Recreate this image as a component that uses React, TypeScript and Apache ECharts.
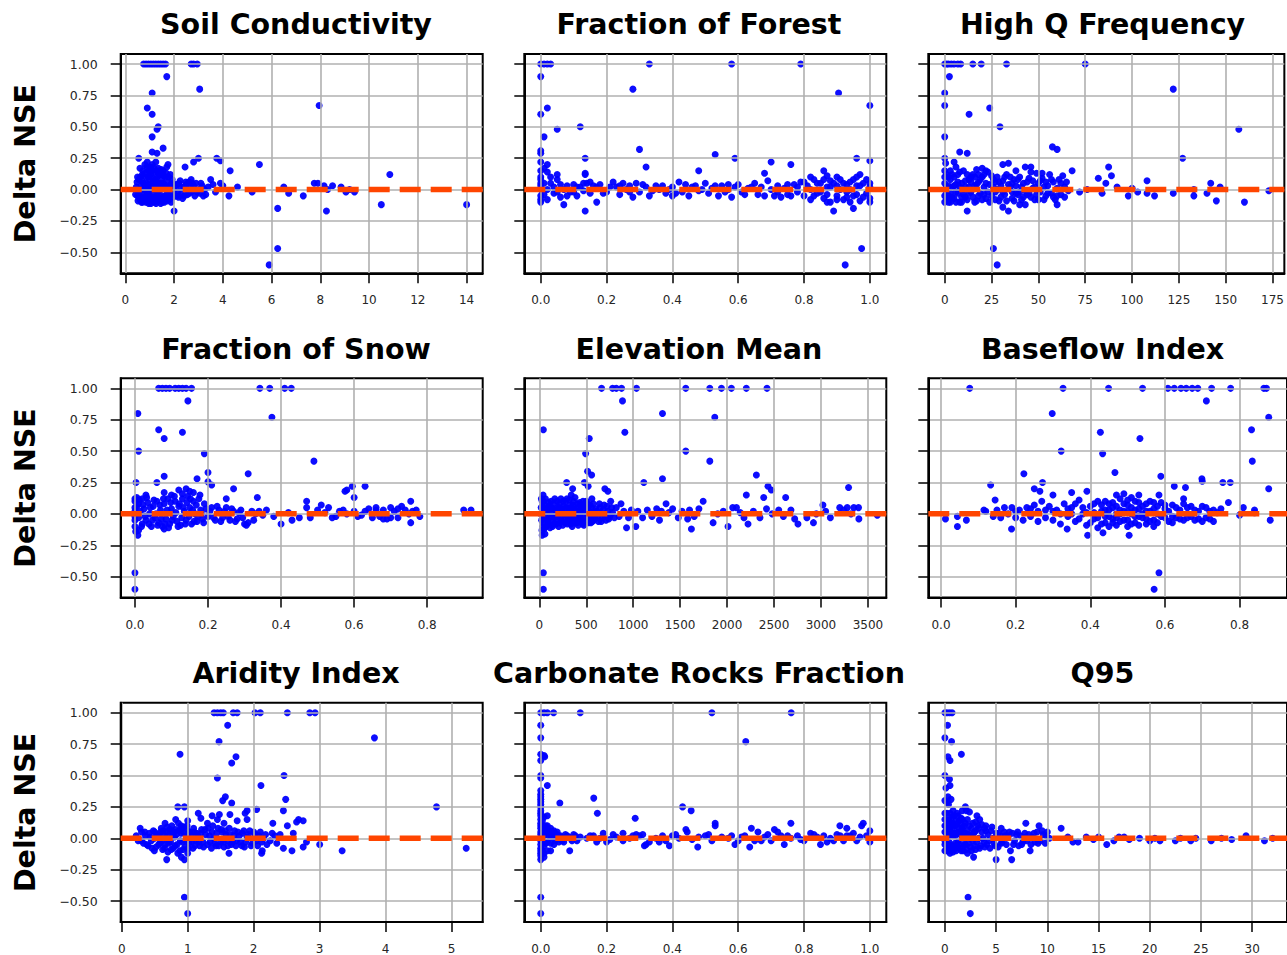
import React, { useEffect, useRef } from "react";
import * as echarts from "echarts";

// ---------- text ----------
const panelTitles = [
  "Soil Conductivity", "Fraction of Forest", "High Q Frequency",
  "Fraction of Snow", "Elevation Mean", "Baseflow Index",
  "Aridity Index", "Carbonate Rocks Fraction", "Q95",
];
const yAxisName = "Delta NSE";

// ---------- axes ----------
const yMin = -0.667;
const yMax = 1.08;
const yTicks = [-0.5, -0.25, 0, 0.25, 0.5, 0.75, 1.0];

const xRanges: [number, number][] = [
  [-0.19, 14.66], [-0.05, 1.05], [-8.77, 181.3],
  [-0.039, 0.952], [-160, 3696], [-0.034, 0.927],
  [-0.015, 5.47], [-0.05, 1.05], [-1.62, 33.4],
];
const xTicks: number[][] = [
  [0, 2, 4, 6, 8, 10, 12, 14],
  [0, 0.2, 0.4, 0.6, 0.8, 1.0],
  [0, 25, 50, 75, 100, 125, 150, 175],
  [0, 0.2, 0.4, 0.6, 0.8],
  [0, 500, 1000, 1500, 2000, 2500, 3000, 3500],
  [0, 0.2, 0.4, 0.6, 0.8],
  [0, 1, 2, 3, 4, 5],
  [0, 0.2, 0.4, 0.6, 0.8, 1.0],
  [0, 5, 10, 15, 20, 25, 30],
];
const xDecimals = [0, 1, 0, 1, 0, 1, 0, 1, 0];

// ---------- data: [attribute value, delta NSE] ----------
const soilConductivity: number[][] = [
  [0.75,1],[0.85,1],[0.95,1],[1.05,1],[1.15,1],[1.25,1],[1.35,1],[1.45,1],[1.55,1],[1.65,1],[2.7,1],[2.8,1],[2.95,1],
  [1.7,0.9],[3.05,0.8],[1.1,0.77],[0.9,0.65],[1.1,0.6],[7.95,0.67],[1.35,0.5],[1.3,0.48],[1.1,0.42],[1.55,0.33],[1.1,0.3],[1.3,0.29],
  [0.55,0.25],[3.0,0.25],[3.75,0.25],[3.9,0.23],[2.8,0.22],[5.5,0.2],[2.45,0.18],[1.75,0.2],[1.7,0.18],[4.3,0.15],[10.85,0.12],[3.5,0.08],
  [4.6,0.02],[4.25,-0.05],[5.2,-0.02],[6.25,-0.15],[6.25,-0.47],[5.9,-0.6],[6.5,0.02],[6.7,-0.03],[7.3,-0.05],[7.75,0.05],[7.9,0.05],
  [8.15,0.03],[8.25,-0.17],[8.5,0.03],[8.85,0.02],[9.05,-0.02],[9.4,-0.02],[10.5,-0.12],[14.0,-0.12],[2.0,-0.17],[8.3,0.0],[9.2,0.0],[3.9,0.05],[4.0,0.03],
  [0.45,0.02],[0.5,-0.05],[0.55,0.08],[0.6,-0.08],[0.6,0.17],[0.65,0.03],[0.7,-0.1],[0.7,0.12],[0.75,0.05],[0.75,-0.03],[0.8,0.2],[0.8,-0.07],
  [0.85,0.1],[0.85,0.0],[0.9,0.22],[0.9,-0.09],[0.95,0.15],[0.95,0.04],[1.0,0.18],[1.0,-0.05],[1.0,0.08],[1.05,-0.11],[1.05,0.12],[1.1,0.02],
  [1.1,0.2],[1.15,-0.07],[1.15,0.06],[1.2,0.14],[1.2,-0.1],[1.25,0.03],[1.25,0.22],[1.3,-0.05],[1.3,0.1],[1.35,0.17],[1.35,-0.09],[1.4,0.05],
  [1.4,-0.03],[1.45,0.12],[1.45,-0.11],[1.5,0.02],[1.5,0.08],[1.55,-0.06],[1.55,0.15],[1.6,0.04],[1.6,-0.1],[1.65,0.1],[1.7,-0.04],[1.75,0.06],
  [1.8,-0.08],[1.8,0.02],[1.85,0.12],[1.9,-0.03],[1.95,0.05],[0.65,-0.06],[0.9,-0.02],[1.2,0.0],[1.5,-0.08],[0.5,0.1],
  [2.05,0.03],[2.1,-0.05],[2.2,0.05],[2.3,-0.03],[2.35,-0.07],[2.4,0.02],[2.5,0.04],[2.55,-0.04],[2.6,0.06],[2.7,0.08],[2.7,-0.02],[2.8,0.03],
  [2.85,-0.05],[2.9,0.05],[3.0,0.0],[3.05,-0.03],[3.15,0.03],[3.2,-0.05],[3.3,-0.04],[3.4,0.02],[3.6,0.04],[3.7,-0.02],[2.25,0.07],[2.15,-0.02],
  [0.42,-0.04],[0.48,0.06],[0.52,-0.09],[0.58,0.0],[0.62,0.1],[0.66,-0.1],[0.68,0.07],[0.72,0.15],[0.74,-0.06],[0.78,0.02],[0.82,0.13],
  [0.84,-0.1],[0.86,0.05],[0.88,0.18],[0.92,-0.05],[0.94,0.1],[0.96,-0.11],[0.98,0.02],[1.02,0.14],[1.04,0.0],[1.06,-0.08],[1.08,0.16],
  [1.12,0.09],[1.14,-0.03],[1.16,0.18],[1.18,0.04],[1.22,-0.06],[1.24,0.08],[1.26,-0.11],[1.28,0.15],[1.32,0.05],[1.34,-0.02],[1.38,0.12],
  [1.42,-0.07],[1.44,0.03],[1.48,0.16],[1.52,-0.1],[1.54,0.05],[1.58,0.11],[1.62,-0.05],[1.64,0.01],[1.68,0.13],[1.72,-0.09],[1.76,0.0],
  [1.78,0.1],[1.82,-0.05],[1.86,0.04],[1.88,-0.1],[1.92,0.08],[1.96,-0.06],[2.02,0.0],[2.12,0.04],[2.18,-0.06],[2.28,0.02],[2.42,-0.05],
  [2.48,0.06],[2.62,-0.03],[2.66,0.03],[2.75,0.05],[2.95,-0.02],[3.1,0.05],[3.25,0.0],[0.55,-0.02],[0.7,0.0],[0.95,-0.07],
];
const fractionForest: number[][] = [
  [0.0,1],[0.01,1],[0.02,1],[0.03,1],[0.33,1],[0.58,1],[0.79,1],
  [0.0,0.9],[0.28,0.8],[0.905,0.77],[1.0,0.67],[0.02,0.65],[0.0,0.6],[0.05,0.48],[0.12,0.5],[0.01,0.42],[0.3,0.32],[0.0,0.31],[0.0,0.29],
  [0.53,0.28],[0.135,0.25],[0.59,0.25],[0.96,0.25],[1.0,0.23],[0.32,0.18],[0.7,0.22],[0.76,0.2],[0.48,0.15],[0.68,0.13],[0.86,0.15],[0.87,0.11],
  [0.97,0.12],[0.02,0.14],[0.05,0.12],[0.135,0.13],[0.135,0.12],[0.135,-0.17],[0.17,-0.1],[0.07,-0.12],[0.975,-0.47],[0.925,-0.6],[0.89,-0.17],
  [0.95,-0.15],[0.02,0.2],[0.01,0.17],[0.0,0.22],[0.0,0.1],[0.0,0.05],[0.0,-0.05],[0.0,-0.1],[0.0,0.15],[0.0,0.0],
  [0.03,0.05],[0.04,-0.03],[0.05,0.08],[0.06,-0.06],[0.08,0.03],[0.09,-0.02],[0.1,0.04],[0.11,-0.05],[0.12,0.02],[0.14,0.05],[0.15,-0.03],
  [0.16,0.03],[0.18,0.04],[0.2,-0.02],[0.22,0.06],[0.23,0.02],[0.24,-0.04],[0.25,0.05],[0.26,0.0],[0.27,0.03],[0.28,-0.06],[0.29,0.05],
  [0.3,-0.02],[0.32,0.02],[0.33,-0.05],[0.35,0.03],[0.36,0.0],[0.38,-0.03],[0.4,0.02],[0.42,0.06],[0.43,-0.02],[0.44,0.04],[0.45,-0.05],
  [0.46,0.02],[0.5,0.05],[0.51,-0.03],[0.52,0.01],[0.54,-0.05],[0.55,0.03],[0.57,0.0],[0.58,-0.06],[0.6,0.04],[0.61,-0.02],[0.63,0.01],
  [0.65,0.05],[0.66,-0.04],[0.67,0.02],[0.69,0.07],[0.71,-0.05],[0.72,0.03],[0.73,-0.06],[0.74,0.01],[0.75,-0.04],[0.77,0.04],[0.78,-0.02],
  [0.79,0.06],[0.8,-0.05],[0.81,0.03],[0.82,-0.08],[0.83,0.08],[0.84,-0.03],[0.85,0.05],[0.86,-0.07],[0.87,0.02],[0.88,-0.1],[0.88,0.07],
  [0.9,0.03],[0.9,-0.05],[0.91,0.08],[0.92,-0.08],[0.93,0.04],[0.93,-0.02],[0.94,0.06],[0.95,-0.05],[0.96,0.03],[0.97,-0.09],[0.98,0.05],
  [0.99,-0.03],[1.0,0.02],[1.0,-0.07],[0.57,0.04],[0.68,-0.05],[0.76,-0.05],[0.48,-0.01],[0.4,-0.05],[0.15,0.06],
  [0.0,0.08],[0.0,-0.08],[0.0,0.03],[0.01,0.05],[0.01,-0.04],[0.02,0.0],[0.02,-0.08],[0.03,0.1],[0.04,0.02],[0.05,-0.02],[0.06,0.04],
  [0.07,0.0],[0.08,-0.05],[0.1,-0.02],[0.11,0.02],[0.13,-0.01],[0.13,0.05],[0.17,0.02],[0.19,-0.03],[0.21,0.02],[0.24,0.03],[0.27,-0.02],
  [0.31,0.04],[0.34,-0.01],[0.37,0.03],[0.39,0.0],[0.41,-0.03],[0.47,0.03],[0.49,0.0],[0.53,0.03],[0.56,-0.02],[0.59,0.02],[0.62,-0.04],
  [0.64,0.02],[0.7,0.0],[0.72,-0.02],[0.75,0.04],[0.78,0.02],[0.8,0.06],[0.82,0.0],[0.83,-0.05],[0.84,0.05],[0.85,-0.02],[0.86,0.08],
  [0.87,-0.04],[0.88,0.02],[0.89,0.05],[0.9,-0.08],[0.91,0.0],[0.92,0.05],[0.93,-0.06],[0.94,0.0],[0.95,0.08],[0.96,-0.04],[0.97,0.03],
  [0.98,-0.06],[0.99,0.08],[1.0,0.05],[1.0,-0.1],[0.96,0.1],[0.9,0.1],[0.82,0.1],[0.87,-0.1],[0.94,-0.1],
];
const highQFrequency: number[][] = [
  [0,1],[1,1],[2,1],[3.5,1],[5,1],[7,1],[8.5,1],[15,1],[19.5,1],[33,1],[75,1],
  [2.5,0.9],[0,0.77],[0,0.67],[24,0.65],[13,0.6],[29.5,0.5],[0,0.42],[122,0.8],[157,0.48],[57.5,0.34],[60,0.32],[8,0.3],[12,0.29],
  [0,0.25],[0.5,0.21],[127,0.25],[5,0.22],[31,0.2],[34,0.21],[43,0.18],[46,0.18],[87.5,0.18],[68,0.15],[89,0.11],[82,0.09],[108,0.07],
  [142,0.05],[147,0.02],[145,-0.09],[160,-0.1],[133,-0.05],[140,-0.03],[122,-0.03],[98,-0.05],[103,-0.02],[108,-0.03],[112,-0.05],
  [100,0.01],[72,-0.02],[84,-0.03],[173,-0.01],[12,-0.17],[31,-0.14],[34,-0.17],[40,-0.12],[43,-0.12],[60,-0.12],[26,-0.47],[28,-0.6],
  [133,0.0],[76,0.0],[92,0.02],[86,0.05],
  [0,0.1],[0,0.05],[0,-0.05],[0,-0.1],[1,0.12],[1,-0.08],[2,0.03],[2,-0.05],[3,0.08],[3,-0.1],[4,0.02],[5,-0.07],[5,0.1],[6,0.04],
  [7,-0.03],[7,0.12],[8,-0.1],[9,0.05],[10,-0.04],[10,0.15],[11,0.02],[12,-0.08],[13,0.08],[14,-0.02],[15,0.12],[16,0.03],[17,-0.09],
  [18,0.06],[19,-0.03],[20,0.1],[21,0.02],[22,-0.07],[23,0.14],[24,0.04],[25,-0.05],[26,0.08],[27,-0.02],[28,0.1],[29,-0.09],[30,0.03],
  [31,0.07],[32,-0.04],[33,0.12],[35,0.02],[36,-0.07],[37,0.08],[38,0.03],[39,-0.04],[40,0.1],[41,0.02],[42,-0.06],[44,0.06],[45,-0.03],
  [46,0.14],[47,0.01],[48,-0.08],[50,0.05],[51,-0.02],[52,0.09],[54,-0.05],[55,0.03],[56,0.12],[57,-0.03],[58,0.06],[59,-0.08],[60,0.01],
  [61,0.08],[62,-0.04],[63,0.11],[64,0.02],[66,-0.01],[6,0.18],[17,0.16],[20,0.17],[38,0.15],[49,0.13],[52,0.13],[3,-0.03],[9,-0.06],
  [11,0.07],[14,0.06],[18,-0.05],[22,0.05],[27,0.06],[36,0.05],[43,-0.01],[53,0.02],
  [0,0.0],[0,0.15],[1,0.02],[1,-0.04],[2,0.1],[2,-0.1],[3,0.15],[4,-0.06],[4,0.12],[5,0.03],[6,-0.1],[6,-0.02],[7,0.06],[8,0.02],[8,0.14],
  [9,-0.1],[10,0.0],[11,-0.06],[12,0.12],[13,-0.03],[13,0.02],[14,0.1],[15,-0.06],[16,0.1],[16,-0.1],[17,0.04],[18,0.12],[19,0.08],[20,-0.08],
  [21,-0.04],[21,0.12],[22,0.15],[23,-0.02],[24,-0.1],[25,0.11],[26,0.02],[27,-0.08],[28,0.0],[29,0.06],[30,-0.06],[31,-0.02],[32,0.1],
  [33,-0.09],[34,0.04],[35,0.1],[36,-0.02],[37,-0.09],[38,-0.03],[39,0.08],[40,-0.02],[41,-0.08],[42,0.05],[44,-0.04],[45,0.09],[46,-0.06],
  [47,0.07],[48,0.02],[49,-0.04],[50,-0.08],[51,0.07],[53,-0.08],[54,0.06],[55,-0.03],[57,0.08],[58,-0.06],[60,-0.05],[62,0.05],[64,-0.06],[65,0.06],
];
const fractionSnow: number[][] = [
  [0.065,1],[0.075,1],[0.085,1],[0.095,1],[0.11,1],[0.12,1],[0.13,1],[0.14,1],[0.155,1],[0.342,1],[0.369,1],[0.41,1],[0.428,1],
  [0.145,0.9],[0.008,0.8],[0.375,0.77],[0.065,0.67],[0.13,0.65],[0.08,0.6],[0.01,0.5],[0.19,0.48],[0.49,0.42],[0.2,0.33],[0.31,0.32],
  [0.08,0.3],[0.17,0.28],[0.003,0.25],[0.06,0.25],[0.2,0.255],[0.21,0.23],[0.58,0.19],[0.595,0.22],[0.63,0.22],[0.575,0.18],[0.6,0.13],
  [0.27,0.2],[0.335,0.13],[0.25,0.12],[0.1,0.15],[0.08,0.17],[0.03,0.15],[0.47,0.1],[0.755,0.1],[0.4,-0.08],[0.43,-0.05],[0.755,-0.07],
  [0.9,0.03],[0.92,0.03],[0.0,-0.47],[0.0,-0.6],[0.008,-0.17],[0.08,-0.12],[0.14,0.2],[0.15,0.18],[0.16,0.17],[0.12,0.19],[0.13,0.16],
  [0.0,0.1],[0.0,-0.1],[0.0,0.05],[0.0,-0.05],[0.005,0.13],[0.01,-0.13],[0.01,0.08],[0.015,0.02],[0.02,-0.08],[0.02,0.12],[0.025,0.04],
  [0.03,-0.05],[0.035,0.09],[0.04,0.0],[0.045,-0.1],[0.05,0.06],[0.055,-0.03],[0.06,0.1],[0.065,-0.07],[0.07,0.03],[0.075,-0.1],[0.08,0.08],
  [0.085,-0.04],[0.09,0.12],[0.095,-0.08],[0.1,0.04],[0.105,-0.02],[0.11,0.1],[0.115,-0.06],[0.12,0.06],[0.125,-0.09],[0.13,0.12],
  [0.135,0.02],[0.14,-0.05],[0.145,0.14],[0.15,0.05],[0.155,-0.08],[0.16,0.1],[0.165,0.0],[0.17,-0.06],[0.175,0.12],[0.18,0.03],
  [0.185,-0.04],[0.19,0.08],[0.2,-0.02],[0.21,0.05],[0.22,-0.05],[0.23,0.03],[0.24,-0.03],[0.25,0.05],[0.26,-0.05],[0.27,0.02],[0.28,-0.04],
  [0.29,0.03],[0.3,-0.08],[0.31,-0.07],[0.32,0.02],[0.33,0.0],[0.36,0.03],[0.38,-0.02],[0.42,0.01],[0.45,-0.03],[0.47,0.05],[0.48,-0.03],
  [0.5,0.03],[0.51,0.07],[0.52,0.01],[0.53,0.05],[0.55,-0.02],[0.57,0.03],[0.6,0.02],[0.62,-0.01],[0.64,0.04],[0.65,-0.03],[0.66,0.03],
  [0.67,-0.02],[0.68,0.03],[0.69,-0.04],[0.7,0.05],[0.71,0.02],[0.72,-0.03],[0.73,0.06],[0.74,0.03],[0.75,0.0],[0.77,0.03],[0.78,-0.02],
  [0.54,-0.03],[0.66,0.05],[0.7,-0.03],
  [0.0,0.02],[0.0,-0.02],[0.0,0.12],[0.002,-0.14],[0.005,0.06],[0.01,-0.03],[0.012,0.11],[0.018,-0.1],[0.022,0.07],[0.028,-0.02],[0.032,0.13],
  [0.038,-0.08],[0.042,0.05],[0.048,-0.05],[0.052,0.11],[0.058,0.0],[0.062,-0.09],[0.068,0.07],[0.072,-0.04],[0.078,0.12],[0.082,-0.08],
  [0.088,0.03],[0.092,-0.11],[0.098,0.09],[0.102,-0.05],[0.108,0.14],[0.112,0.01],[0.118,-0.1],[0.122,0.08],[0.128,-0.03],[0.132,0.05],
  [0.138,-0.08],[0.142,0.09],[0.148,-0.02],[0.152,0.12],[0.158,0.03],[0.162,-0.06],[0.168,0.07],[0.172,-0.02],[0.178,0.15],[0.182,0.0],
  [0.188,-0.07],[0.195,0.04],[0.205,0.02],[0.215,-0.03],[0.225,0.06],[0.235,-0.06],[0.245,0.02],[0.255,-0.02],[0.265,0.04],[0.275,-0.06],
  [0.285,0.01],[0.295,-0.03],[0.305,-0.09],[0.325,-0.05],[0.34,0.02],[0.35,-0.01],[0.56,0.02],[0.58,0.0],[0.61,-0.02],[0.63,0.02],
  [0.68,-0.04],[0.72,0.04],[0.76,0.02],
];
const elevationMean: number[][] = [
  [663,1],[780,1],[820,1],[876,1],[1035,1],[1560,1],[1816,1],[1940,1],[2046,1],[2205,1],[2425,1],
  [886,0.9],[1312,0.8],[1869,0.77],[43,0.67],[911,0.65],[532,0.6],[493,0.48],[1560,0.5],[1816,0.42],[514,0.34],[557,0.31],[2312,0.31],
  [291,0.25],[1113,0.25],[1312,0.28],[2436,0.22],[2471,0.19],[698,0.2],[730,0.18],[355,0.2],[340,0.15],[2205,0.15],[2390,0.13],[2624,0.13],
  [3294,0.21],[40,0.15],[1745,0.1],[1350,0.08],[3021,0.07],[3200,0.05],[3280,0.05],[3400,0.05],[929,-0.11],[1028,-0.1],[1620,-0.12],
  [1851,-0.07],[2010,-0.1],[2223,-0.08],[2755,-0.08],[2920,-0.07],[3404,-0.04],[43,-0.47],[43,-0.6],[30,-0.17],[60,-0.16],[480,0.25],[520,0.22],
  [20,0.05],[25,-0.05],[30,0.1],[35,-0.1],[40,0.02],[50,-0.12],[60,0.07],[70,-0.03],[80,0.04],[90,-0.08],[100,0.09],[110,0.0],[120,-0.06],
  [130,0.05],[140,-0.1],[150,0.08],[160,-0.03],[170,0.03],[180,-0.08],[190,0.1],[200,-0.02],[210,0.05],[220,-0.07],[230,0.12],[240,0.02],
  [250,-0.09],[260,0.06],[270,-0.04],[280,0.1],[290,-0.01],[300,-0.08],[310,0.04],[320,0.11],[330,-0.05],[340,0.02],[350,-0.1],[360,0.07],
  [370,-0.03],[380,0.13],[390,0.01],[400,-0.07],[410,0.05],[420,-0.02],[430,0.09],[440,-0.05],[450,0.03],[460,-0.08],[470,0.06],[480,0.0],
  [490,-0.06],[500,0.1],[510,0.02],[520,-0.04],[540,0.07],[550,-0.07],[560,0.12],[570,0.0],[580,-0.05],[600,0.04],[620,-0.03],[640,0.08],
  [660,-0.06],[680,0.03],[700,-0.02],[720,0.06],[740,-0.04],[760,0.1],[780,0.01],[800,-0.03],[820,0.05],[850,-0.02],[870,0.08],[900,0.02],
  [950,-0.03],[980,0.03],[1050,0.02],[1100,-0.03],[1150,0.03],[1200,-0.02],[1250,0.04],[1280,-0.05],[1300,0.02],[1380,0.01],[1420,0.04],
  [1480,-0.03],[1520,0.02],[1580,-0.04],[1600,0.03],[1650,-0.02],[1700,0.04],[1900,0.0],[1960,0.02],[2060,0.05],[2100,0.05],[2140,0.01],
  [2180,-0.03],[2280,0.02],[2350,-0.03],[2420,0.04],[2480,0.0],[2550,0.03],[2600,-0.02],[2680,0.03],[2720,-0.04],[2850,-0.03],[2950,0.0],
  [3050,0.02],[3100,-0.03],[3240,0.03],[3320,0.0],[3350,0.05],[3600,-0.01],
  [15,0.0],[22,0.12],[28,-0.13],[33,0.06],[38,-0.07],[45,0.1],[55,-0.04],[65,0.12],[75,-0.1],[85,0.02],[95,-0.05],[105,0.06],[115,-0.11],
  [125,0.1],[135,-0.02],[145,0.04],[155,-0.08],[165,0.12],[175,0.0],[185,-0.05],[195,0.05],[205,-0.1],[215,0.08],[225,-0.03],[235,0.04],
  [245,-0.06],[255,0.1],[265,0.0],[275,-0.07],[285,0.05],[295,0.12],[305,-0.04],[315,0.0],[325,0.07],[335,-0.08],[345,0.05],[355,-0.03],
  [365,0.1],[375,-0.07],[385,0.03],[395,-0.04],[405,0.08],[415,-0.09],[425,0.02],[435,-0.02],[445,0.06],[455,-0.05],[465,0.1],[475,-0.09],
  [485,0.03],[495,0.06],[505,-0.03],[515,0.08],[525,-0.07],[535,0.02],[545,-0.02],[555,0.05],[565,-0.06],[575,0.08],[590,-0.02],[610,0.02],
  [630,-0.06],[650,0.05],[670,-0.03],[690,0.07],[710,-0.05],[730,0.02],[750,-0.02],[770,0.05],
];
const baseflowIndex: number[][] = [
  [0.077,1],[0.327,1],[0.449,1],[0.54,1],[0.608,1],[0.625,1],[0.643,1],[0.657,1],[0.673,1],[0.688,1],[0.725,1],[0.776,1],[0.865,1],[0.872,1],
  [0.711,0.9],[0.298,0.8],[0.878,0.77],[0.832,0.67],[0.427,0.65],[0.533,0.6],[0.322,0.5],[0.433,0.48],[0.834,0.42],[0.466,0.33],[0.222,0.32],
  [0.589,0.3],[0.699,0.28],[0.272,0.25],[0.755,0.25],[0.775,0.25],[0.7,0.26],[0.133,0.23],[0.625,0.22],[0.655,0.21],[0.25,0.2],[0.265,0.18],
  [0.878,0.2],[0.3,0.15],[0.35,0.17],[0.391,0.18],[0.47,0.15],[0.49,0.16],[0.53,0.15],[0.584,0.15],[0.145,0.11],[0.65,0.12],[0.77,0.09],
  [0.81,0.05],[0.84,0.03],[0.012,-0.04],[0.044,-0.1],[0.068,-0.05],[0.044,-0.02],[0.115,0.03],[0.189,-0.12],[0.393,-0.17],[0.434,-0.15],
  [0.504,-0.17],[0.338,-0.12],[0.584,-0.47],[0.571,-0.6],[0.882,-0.05],[0.84,0.01],[0.8,-0.01],
  [0.12,0.02],[0.14,-0.02],[0.15,0.03],[0.16,-0.03],[0.17,0.05],[0.18,0.0],[0.19,0.05],[0.2,-0.03],[0.21,0.03],[0.22,-0.05],[0.23,0.05],
  [0.24,-0.02],[0.25,0.07],[0.26,-0.06],[0.27,0.1],[0.28,-0.03],[0.29,0.06],[0.3,-0.05],[0.31,0.03],[0.32,-0.08],[0.33,0.08],[0.34,-0.02],
  [0.35,0.05],[0.36,-0.06],[0.37,0.11],[0.38,0.0],[0.39,-0.09],[0.4,0.06],[0.41,-0.04],[0.42,0.1],[0.42,-0.11],[0.43,0.02],[0.44,-0.07],
  [0.45,0.08],[0.45,-0.02],[0.46,0.05],[0.47,-0.09],[0.48,0.03],[0.48,0.12],[0.49,-0.05],[0.5,0.07],[0.5,-0.1],[0.51,0.0],[0.52,0.1],
  [0.52,-0.07],[0.53,0.04],[0.54,-0.03],[0.55,0.08],[0.55,-0.08],[0.56,0.02],[0.57,-0.05],[0.58,0.06],[0.59,-0.02],[0.6,0.04],[0.61,-0.06],
  [0.62,0.07],[0.63,-0.03],[0.64,0.03],[0.65,-0.05],[0.66,0.05],[0.67,-0.02],[0.68,0.03],[0.69,-0.04],[0.7,0.06],[0.71,-0.03],[0.72,0.02],
  [0.73,-0.06],[0.74,0.01],[0.75,0.04],[0.44,0.03],[0.46,-0.04],[0.5,0.02],[0.53,-0.02],[0.47,0.0],[0.57,0.09],[0.51,0.13],
  [0.35,0.0],[0.36,0.08],[0.37,-0.04],[0.38,0.05],[0.39,0.01],[0.4,-0.07],[0.41,0.08],[0.41,0.01],[0.42,-0.03],[0.43,0.07],[0.43,-0.08],
  [0.44,0.1],[0.44,-0.02],[0.45,0.03],[0.45,-0.1],[0.46,0.09],[0.46,-0.07],[0.47,0.06],[0.47,-0.03],[0.48,-0.06],[0.48,0.0],[0.49,0.08],
  [0.49,0.02],[0.5,-0.05],[0.5,0.11],[0.51,0.05],[0.51,-0.08],[0.52,-0.02],[0.52,0.03],[0.53,0.09],[0.53,-0.09],[0.54,0.06],[0.54,0.0],
  [0.55,-0.04],[0.55,0.02],[0.56,0.1],[0.56,-0.06],[0.57,0.04],[0.57,-0.1],[0.58,0.0],[0.58,-0.07],[0.59,0.09],[0.6,-0.03],[0.6,0.07],
  [0.61,0.02],[0.62,-0.02],[0.62,-0.07],[0.63,0.05],[0.64,-0.04],[0.65,0.08],[0.66,-0.03],[0.67,0.06],[0.68,-0.05],[0.69,0.02],[0.7,-0.06],
  [0.71,0.05],[0.72,-0.04],[0.73,0.03],[0.3,0.02],[0.32,0.0],[0.34,0.04],[0.28,0.03],[0.26,0.02],[0.24,0.04],[0.2,0.02],
];
const aridityIndex: number[][] = [
  [1.4,1],[1.45,1],[1.5,1],[1.54,1],[1.69,1],[1.75,1],[2.02,1],[2.1,1],[2.51,1],[2.85,1],[2.93,1],
  [1.606,0.9],[3.83,0.8],[1.475,0.77],[0.884,0.67],[1.732,0.65],[1.667,0.6],[2.46,0.5],[1.45,0.48],[2.11,0.42],[1.571,0.33],[1.53,0.3],
  [2.485,0.31],[1.667,0.28],[0.85,0.25],[0.95,0.25],[4.77,0.25],[2.045,0.23],[2.45,0.22],[1.87,0.2],[1.9,0.22],[1.16,0.2],[1.37,0.18],
  [1.48,0.19],[1.64,0.19],[0.818,0.15],[1.9,0.15],[1.75,0.14],[2.29,0.12],[0.657,0.12],[2.51,0.1],[2.68,0.15],[2.75,0.14],[2.65,0.13],
  [0.28,0.08],[2.6,0.04],[2.28,0.04],[3.0,-0.05],[3.34,-0.1],[5.22,-0.08],[2.45,-0.08],[2.58,-0.1],[2.75,-0.07],[2.12,-0.12],[2.13,-0.1],
  [1.626,-0.12],[0.682,-0.17],[0.904,-0.15],[0.95,-0.17],[1.0,-0.12],[0.495,-0.1],[0.95,-0.47],[1.0,-0.6],[2.8,-0.03],[2.4,0.03],[2.35,-0.04],
  [0.22,0.02],[0.25,-0.02],[0.3,0.05],[0.33,-0.04],[0.36,0.02],[0.4,-0.06],[0.42,0.04],[0.45,-0.02],[0.48,0.06],[0.5,0.0],[0.52,-0.07],
  [0.55,0.03],[0.58,-0.04],[0.6,0.08],[0.62,-0.09],[0.64,0.02],[0.66,-0.05],[0.68,0.05],[0.7,-0.11],[0.72,0.03],[0.74,-0.03],[0.76,0.1],
  [0.78,-0.08],[0.8,0.01],[0.82,0.07],[0.84,-0.05],[0.86,0.12],[0.88,-0.1],[0.9,0.04],[0.92,-0.03],[0.94,0.09],[0.96,-0.07],[0.98,0.02],
  [1.0,0.06],[1.02,-0.04],[1.05,0.03],[1.08,-0.08],[1.1,0.05],[1.12,-0.02],[1.15,0.02],[1.18,-0.06],[1.2,0.04],[1.23,-0.03],[1.26,0.07],
  [1.3,-0.05],[1.33,0.02],[1.36,-0.08],[1.38,0.1],[1.4,0.0],[1.43,-0.06],[1.46,0.08],[1.5,-0.03],[1.52,0.05],[1.55,-0.07],[1.58,0.03],
  [1.6,-0.02],[1.63,0.08],[1.66,-0.05],[1.7,0.02],[1.73,-0.06],[1.76,0.05],[1.8,-0.03],[1.83,0.04],[1.86,-0.07],[1.9,0.01],[1.94,0.06],
  [1.98,-0.04],[2.02,0.03],[2.06,-0.06],[2.1,0.05],[2.15,0.0],[2.2,-0.05],[0.9,0.1],[1.3,0.12],[1.45,0.15],[1.55,0.12],[1.2,0.16],
  [1.0,0.14],[0.75,0.06],
  [0.3,-0.02],[0.35,0.05],[0.38,-0.05],[0.43,0.01],[0.46,-0.08],[0.5,0.05],[0.53,0.02],[0.56,-0.05],[0.59,0.05],[0.61,-0.02],[0.63,0.06],
  [0.65,-0.08],[0.67,0.0],[0.69,0.09],[0.71,-0.04],[0.73,0.07],[0.75,-0.09],[0.77,0.02],[0.79,0.05],[0.81,-0.06],[0.83,0.03],[0.85,-0.12],
  [0.87,0.06],[0.89,-0.02],[0.91,0.08],[0.93,-0.09],[0.95,0.04],[0.97,-0.02],[0.99,0.1],[1.01,-0.08],[1.03,0.05],[1.06,-0.03],[1.09,0.08],
  [1.11,-0.06],[1.14,0.04],[1.17,-0.03],[1.21,0.07],[1.24,-0.07],[1.27,0.03],[1.31,0.08],[1.34,-0.03],[1.37,0.05],[1.41,-0.04],[1.44,0.04],
  [1.47,-0.06],[1.51,0.07],[1.54,-0.03],[1.57,0.06],[1.61,-0.06],[1.64,0.03],[1.68,-0.03],[1.71,0.06],[1.74,-0.02],[1.78,0.02],[1.82,-0.06],
  [1.85,0.06],[1.88,-0.03],[1.92,0.03],[1.96,-0.06],[2.0,0.05],[2.04,-0.02],[2.08,0.02],[2.12,-0.03],[2.18,0.03],[2.25,-0.02],[2.32,0.02],
];
const carbonateRocks: number[][] = [
  [0.0,1],[0.01,1],[0.02,1],[0.039,1],[0.12,1],[0.52,1],[0.761,1],
  [0.0,0.9],[0.0,0.8],[0.623,0.77],[0.0,0.67],[0.01,0.66],[0.012,0.65],[0.0,0.62],[0.0,0.5],[0.0,0.48],[0.02,0.42],[0.0,0.38],[0.0,0.35],
  [0.0,0.33],[0.0,0.31],[0.0,0.29],[0.161,0.32],[0.058,0.28],[0.287,0.16],[0.172,0.2],[0.431,0.25],[0.457,0.22],[0.02,0.18],[0.01,0.17],
  [0.76,0.12],[0.53,0.12],[0.53,0.1],[0.909,0.1],[0.975,0.1],[0.98,0.12],[0.93,0.08],[0.441,0.07],[0.445,0.05],[0.72,0.05],[0.22,0.03],
  [0.25,0.04],[0.03,-0.1],[0.088,-0.1],[0.315,-0.06],[0.32,-0.05],[0.391,-0.06],[0.477,-0.07],[0.635,-0.07],[0.59,-0.05],[0.74,-0.05],
  [0.85,-0.05],[0.25,-0.02],[0.0,-0.17],[0.0,-0.12],[0.01,-0.15],[0.0,-0.47],[0.0,-0.6],[0.0,0.25],[0.0,0.2],[0.0,0.15],[0.0,0.1],
  [0.0,0.05],[0.0,-0.05],[0.0,-0.1],[0.64,0.08],[0.66,0.05],[0.69,0.03],[0.71,0.07],[0.82,0.04],[0.83,0.03],[0.95,0.04],[0.89,-0.02],
  [0.01,0.08],[0.01,-0.06],[0.015,0.05],[0.02,0.1],[0.02,-0.03],[0.025,0.06],[0.03,0.02],[0.035,0.05],[0.04,0.02],[0.045,-0.02],[0.05,0.03],
  [0.06,0.01],[0.07,-0.03],[0.08,0.02],[0.09,0.0],[0.1,0.03],[0.11,-0.02],[0.12,0.01],[0.15,0.02],[0.17,-0.03],[0.18,0.0],[0.19,0.04],
  [0.2,-0.03],[0.23,0.01],[0.27,0.0],[0.29,0.03],[0.3,0.02],[0.33,-0.03],[0.35,0.0],[0.37,0.02],[0.38,-0.02],[0.4,0.02],[0.42,0.0],
  [0.46,-0.01],[0.5,0.02],[0.52,-0.02],[0.55,0.01],[0.57,0.0],[0.6,-0.02],[0.62,0.02],[0.65,-0.02],[0.68,0.01],[0.7,-0.02],[0.73,0.02],
  [0.76,0.0],[0.78,0.02],[0.8,-0.02],[0.84,0.01],[0.86,0.02],[0.88,0.0],[0.9,0.03],[0.92,-0.02],[0.94,0.02],[0.97,0.01],[1.0,-0.03],[1.0,0.06],
  [0.0,0.08],[0.0,0.03],[0.0,-0.02],[0.0,-0.08],[0.0,0.12],[0.0,0.18],[0.0,0.22],[0.0,0.27],[0.0,-0.14],[0.005,0.04],[0.005,-0.1],
  [0.005,0.14],[0.01,0.02],[0.01,-0.12],[0.015,0.1],[0.015,-0.04],[0.02,0.06],[0.02,-0.1],[0.025,0.02],[0.03,0.08],[0.03,-0.04],
  [0.035,0.01],[0.04,0.06],[0.04,-0.05],[0.05,0.05],[0.055,-0.03],[0.06,0.02],[0.065,-0.02],[0.075,0.03],[0.085,0.01],[0.095,-0.02],
  [0.105,0.02],[0.14,0.0],[0.16,0.02],[0.21,-0.01],[0.28,0.02],[0.31,0.03],[0.36,-0.03],[0.41,0.03],[0.48,0.01],[0.51,0.03],[0.58,0.02],
  [0.61,0.01],[0.67,-0.02],[0.75,0.02],[0.79,-0.01],[0.87,-0.03],[0.91,0.02],[0.93,0.02],[0.96,-0.02],[0.99,0.02],
];
const q95: number[][] = [
  [0.0,1],[0.2,1],[0.45,1],[0.7,1],
  [0.26,0.9],[0.0,0.8],[0.65,0.77],[1.61,0.67],[0.3,0.65],[0.5,0.62],[0.0,0.5],[0.45,0.47],[0.5,0.42],[0.3,0.33],[0.6,0.31],[0.25,0.29],
  [0.35,0.27],[2.0,0.25],[1.7,0.22],[0.8,0.22],[2.1,0.22],[2.4,0.21],[3.13,0.18],[3.4,0.15],[7.9,0.12],[9.19,0.1],[11.35,0.08],[10,0.05],
  [2.8,-0.15],[5.0,-0.17],[6.52,-0.17],[8.32,-0.1],[15.8,-0.05],[12.5,-0.03],[13,-0.03],[15,0.01],[17,0.01],[17.5,0.01],[20,-0.02],[21,-0.02],
  [22.5,-0.02],[24,-0.02],[26,-0.02],[29.4,0.02],[31.2,-0.02],[32,0.0],[2.26,-0.47],[2.48,-0.6],[12,0.01],[13.8,0.01],[14.5,-0.01],
  [16.5,-0.02],[18,-0.01],[19,0.0],[20.5,0.0],[23,0.0],[24.5,0.0],[27,0.0],[28,-0.01],[0.0,0.2],[0.0,0.1],[0.0,-0.05],[0.0,-0.1],[0.0,0.3],
  [0.1,0.4],[0.2,0.15],
  [0.1,0.05],[0.2,-0.08],[0.3,0.12],[0.4,-0.03],[0.5,0.08],[0.6,-0.1],[0.7,0.17],[0.8,0.02],[0.9,-0.06],[1.0,0.1],[1.1,-0.1],[1.2,0.05],
  [1.3,-0.03],[1.4,0.14],[1.5,-0.08],[1.6,0.06],[1.7,0.0],[1.8,-0.1],[1.9,0.1],[2.0,-0.05],[2.2,0.15],[2.3,0.03],[2.5,-0.07],[2.6,0.08],
  [2.7,-0.02],[2.9,0.05],[3.0,-0.09],[3.2,0.1],[3.3,0.0],[3.5,-0.06],[3.6,0.05],[3.8,-0.03],[3.9,0.08],[4.1,-0.05],[4.2,0.03],[4.4,-0.08],
  [4.5,0.06],[4.7,0.0],[4.8,-0.04],[5.0,0.04],[5.2,-0.07],[5.4,0.02],[5.6,-0.03],[5.8,0.05],[6.0,-0.05],[6.2,0.02],[6.4,-0.1],[6.6,0.04],
  [6.8,-0.02],[7.0,0.03],[7.2,-0.06],[7.4,0.02],[7.6,-0.03],[7.8,0.04],[8.0,-0.02],[8.2,0.03],[8.5,0.01],[8.8,-0.03],[9.0,0.05],[9.3,-0.02],
  [9.6,0.03],[9.8,-0.04],[10.2,0.0],[1.2,0.2],[0.9,0.18],[1.6,0.16],[3.0,0.13],[4.0,0.1],[5.5,0.08],[2.2,-0.12],[0.5,-0.12],[1.0,-0.04],
  [1.5,0.03],[0.3,-0.05],
  [0.0,0.05],[0.0,0.15],[0.0,-0.02],[0.1,0.1],[0.1,-0.1],[0.2,0.02],[0.2,0.2],[0.3,-0.1],[0.3,0.06],[0.4,0.15],[0.4,0.02],[0.5,-0.06],
  [0.5,0.2],[0.6,0.04],[0.6,0.12],[0.7,-0.06],[0.7,0.08],[0.8,-0.11],[0.8,0.12],[0.9,0.04],[1.0,-0.08],[1.0,0.02],[1.1,0.14],[1.1,0.04],
  [1.2,-0.07],[1.3,0.09],[1.3,0.18],[1.4,-0.05],[1.4,0.04],[1.5,0.11],[1.6,-0.1],[1.7,0.08],[1.7,0.15],[1.8,0.02],[1.9,-0.05],[2.0,0.12],
  [2.0,0.04],[2.1,-0.09],[2.2,0.06],[2.3,-0.04],[2.4,0.1],[2.5,0.02],[2.6,-0.1],[2.7,0.12],[2.8,0.04],[2.9,-0.06],[3.0,0.06],[3.1,-0.03],
  [3.3,0.08],[3.4,-0.08],[3.6,0.11],[3.7,0.0],[3.9,-0.07],[4.0,0.06],[4.3,-0.02],[4.6,0.09],[4.9,-0.06],[5.2,0.04],[5.5,-0.04],[5.9,0.02],
  [6.3,0.05],[6.7,-0.05],[7.1,0.05],[7.5,-0.05],[7.9,0.01],[8.4,-0.05],[8.7,0.04],[9.1,-0.04],[9.5,0.06],[9.9,0.02],
];
const panelData = [
  soilConductivity, fractionForest, highQFrequency,
  fractionSnow, elevationMean, baseflowIndex,
  aridityIndex, carbonateRocks, q95,
];

// ---------- layout ----------
const colLefts = [120.7, 524.3, 928.3];
const rowTops = [54, 378.3, 702.7];
const plotW = 362;
const plotH = 219.3;
const titleCenters = [296, 699, 1102.5];

const fmtY = (v: number) => (v < 0 ? "\u2212" + Math.abs(v).toFixed(2) : v.toFixed(2));

export default function App() {
  const ref = useRef<HTMLDivElement>(null);
  useEffect(() => {
    if (!ref.current) return;
    const chart = echarts.init(ref.current, undefined, { renderer: "svg" });
    const grids: any[] = [];
    const xAxes: any[] = [];
    const yAxes: any[] = [];
    const series: any[] = [];
    const graphics: any[] = [];
    for (let i = 0; i < 9; i++) {
      const r = Math.floor(i / 3);
      const c = i % 3;
      const [xmin, xmax] = xRanges[i];
      grids.push({
        left: colLefts[c], top: rowTops[r], width: plotW, height: plotH,
        show: true, borderColor: "#000", borderWidth: 2, backgroundColor: "transparent",
      });
      const dec = xDecimals[i];
      xAxes.push({
        gridIndex: i, type: "value", min: xmin, max: xmax, z: 3,
        axisLine: { show: true, onZero: false, lineStyle: { color: "#000", width: 2 } },
        axisTick: { show: true, length: 10, lineStyle: { color: "#000", width: 1.5 }, customValues: xTicks[i] },
        axisLabel: {
          show: true, customValues: xTicks[i], margin: 21, fontSize: 12, color: "#262626",
          fontFamily: "DejaVu Sans", formatter: (v: number) => v.toFixed(dec),
        },
        splitLine: { show: true, lineStyle: { color: "#b0b0b0", width: 1.6 } },
      });
      yAxes.push({
        gridIndex: i, type: "value", min: yMin, max: yMax, z: 3,
        axisLine: { show: true, onZero: false, lineStyle: { color: "#000", width: 2 } },
        axisTick: { show: true, length: 10, lineStyle: { color: "#000", width: 1.5 }, customValues: yTicks },
        axisLabel: {
          show: c === 0, customValues: yTicks, margin: 23, fontSize: 12.5, color: "#262626",
          fontFamily: "DejaVu Sans", formatter: fmtY,
        },
        splitLine: { show: true, lineStyle: { color: "#b0b0b0", width: 1.6 } },
      });
      series.push({
        type: "scatter", xAxisIndex: i, yAxisIndex: i, data: panelData[i],
        symbolSize: 7, itemStyle: { color: "#0000ff", opacity: 0.95 }, z: 1, silent: true,
      });
      series.push({
        type: "line", xAxisIndex: i, yAxisIndex: i, data: [[xmin, 0], [xmax, 0]],
        symbol: "none", silent: true, z: 6, clip: true,
        lineStyle: { color: "#ff4500", width: 5.5, type: [21, 10], cap: "butt", opacity: 1 },
      });
      graphics.push({
        type: "text", x: titleCenters[c], y: rowTops[r] - 29.3, z: 10,
        style: {
          text: panelTitles[i], fill: "#000", fontSize: 28.5, fontWeight: "bold",
          fontFamily: "DejaVu Sans", align: "center", verticalAlign: "middle",
        },
      });
      if (c === 0) {
        graphics.push({
          type: "text", x: 25, y: rowTops[r] + plotH / 2, rotation: Math.PI / 2, z: 10,
          style: {
            text: yAxisName, fill: "#000", fontSize: 28.5, fontWeight: "bold",
            fontFamily: "DejaVu Sans", align: "center", verticalAlign: "middle",
          },
        });
      }
    }
    chart.setOption({
      animation: false,
      backgroundColor: "#ffffff",
      grid: grids,
      xAxis: xAxes,
      yAxis: yAxes,
      series,
      graphic: graphics,
    });
    return () => chart.dispose();
  }, []);
  return (
    <div
      ref={ref}
      style={{ position: "fixed", left: 0, top: 0, width: 1287, height: 955, overflow: "hidden" }}
    />
  );
}
